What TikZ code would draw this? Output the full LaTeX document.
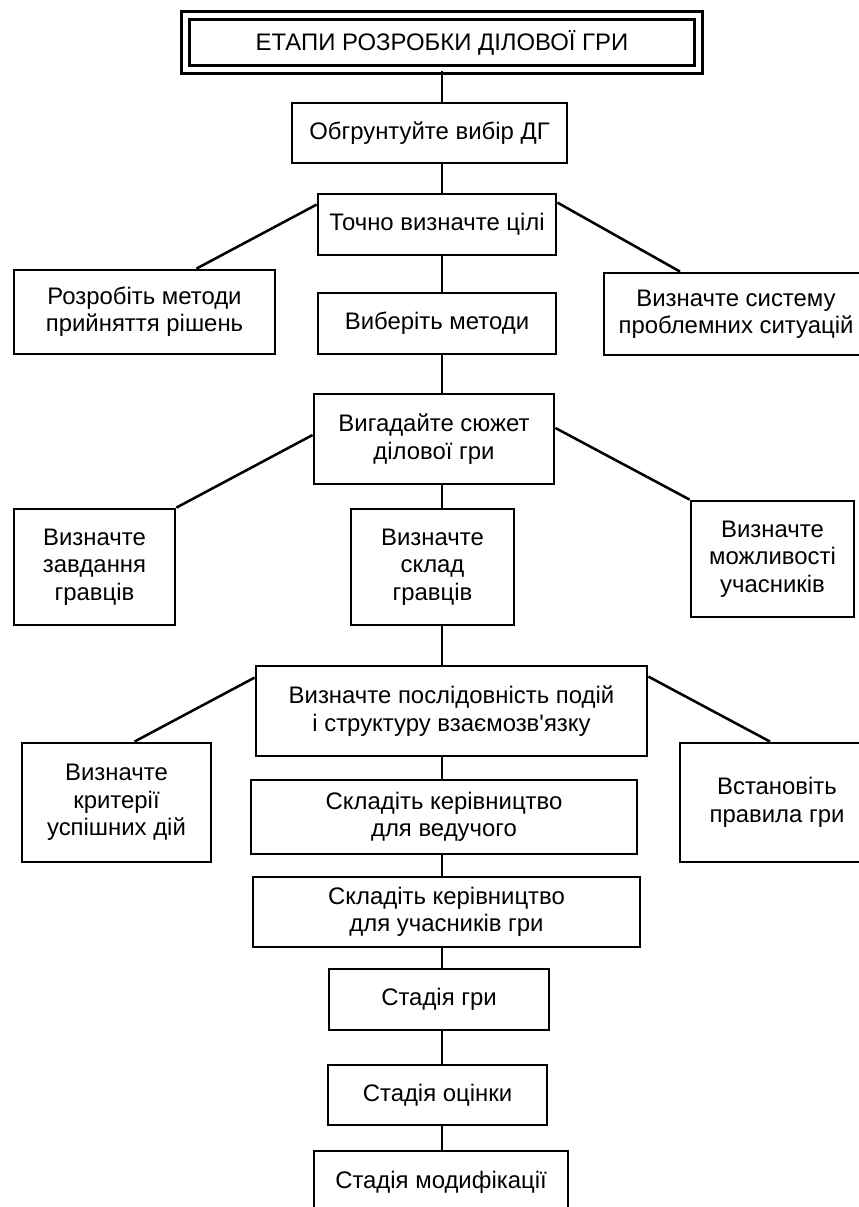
\documentclass[tikz,border=0pt]{standalone}
\usepackage{fontspec}
\setmainfont{Liberation Sans}
\usetikzlibrary{positioning, calc}

\begin{document}
\begin{tikzpicture}[
    % GLOBAL CFG
    x=0.025cm, y=-0.025cm,
    font=\fontsize{17}{19.5}\selectfont,
    % Styles
    stage/.style={% For every step box
        rectangle,
        draw,
        line width=2pt,
        inner sep=2pt,
        align=center,
        },
    boxsize/.style 2 args={% Box size, in pixels of the scan
        minimum width=#1*0.025cm,
        minimum height=#2*0.025cm,
        },
    headbox/.style={% For the title
        rectangle,
        draw,
        double,
        double distance=3.2pt,
        line width=2pt,
        align=center,
        },
    link/.style={% Plain connectors
        line width=1.8pt,
        },
    ]
\useasboundingbox (0,0) rectangle (859,1207);
\clip (0,0) rectangle (859,1207);
% Title
\node[headbox, boxsize={513}{54}] (title) at (442,42.5) {ЕТАПИ РОЗРОБКИ ДІЛОВОЇ ГРИ};
% Draw the stages named by their meaning
\node[stage, boxsize={275}{60}] (ground) at (429.5,133) {Обгрунтуйте вибір ДГ};
\node[stage, boxsize={238}{61}] (goals) at (437,224.5) {Точно визначте цілі};
\node[stage, boxsize={261}{84}] (decide) at (144.5,312) {Розробіть методи\\прийняття рішень};
\node[stage, boxsize={238}{61}] (choose) at (437,323.5) {Виберіть методи};
\node[stage, boxsize={264}{82}] (problems) at (736,314) {Визначте систему\\проблемних ситуацій};
\node[stage, boxsize={240}{90}] (plot) at (434,439) {Вигадайте сюжет\\ділової гри};
\node[stage, boxsize={161}{116}] (tasks) at (94.5,567) {Визначте\\завдання\\гравців};
\node[stage, boxsize={163}{116}] (staff) at (432.5,567) {Визначте\\склад\\гравців};
\node[stage, boxsize={163}{116}] (abilities) at (772.5,559) {Визначте\\можливості\\учасників};
\node[stage, boxsize={391}{90}] (sequence) at (451.5,711) {Визначте послідовність подій\\і структуру взаємозв\textquotesingle язку};
\node[stage, boxsize={189}{119}] (criteria) at (116.5,802.5) {Визначте\\критерії\\успішних дій};
\node[stage, boxsize={386}{74}] (host) at (444,817) {Складіть керівництво\\для ведучого};
\node[stage, boxsize={194}{119}] (rules) at (777,802.5) {Встановіть\\правила гри};
\node[stage, boxsize={387}{70}] (players) at (446.5,912) {Складіть керівництво\\для учасників гри};
\node[stage, boxsize={220}{61}] (game) at (439,999.5) {Стадія гри};
\node[stage, boxsize={219}{60}] (estimate) at (437.5,1095) {Стадія оцінки};
\node[stage, boxsize={254}{63}] (modify) at (441,1182.5) {Стадія модифікації};
% Main vertical line
\foreach \a/\b in {title/ground, ground/goals, goals/choose, choose/plot, plot/staff, staff/sequence, sequence/host, host/players, players/game, game/estimate, estimate/modify}
    \draw[link] (\a.south -| title.south) -- (\b.north -| title.south);
% Side branches
\draw[link] ($(goals.north west)+(0,12)$) -- ($(decide.north)+(52,0)$);
\draw[link] ($(goals.north east)+(0,10)$) -- ($(problems.north)+(-56,0)$);
\draw[link] ($(plot.west)+(0,-4)$) -- (tasks.north east);
\draw[link] ($(plot.east)+(0,-11)$) -- (abilities.north west);
\draw[link] ($(sequence.north west)+(0,13)$) -- ($(criteria.north)+(18,0)$);
\draw[link] ($(sequence.north east)+(0,12)$) -- ($(rules.north)+(-7,0)$);
\end{tikzpicture}
\end{document}
